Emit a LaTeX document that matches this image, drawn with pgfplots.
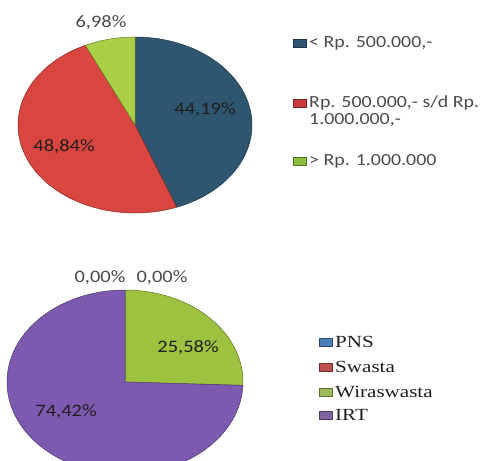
\documentclass[border=0pt]{standalone}
\usepackage{fontspec}
\setmainfont{Carlito}[FakeStretch=1.17]
\newfontfamily\legserif{Liberation Serif}[FakeStretch=1.24]
\usepackage{pgfplots}
\pgfplotsset{compat=1.18}
\definecolor{tblue}{HTML}{2E5670}
\definecolor{tred}{HTML}{D9453F}
\definecolor{tgreen}{HTML}{A9CF46}
\definecolor{bgreen}{HTML}{9CC23F}
\definecolor{bpurple}{HTML}{7D5AAF}
\definecolor{lblue}{HTML}{2F5670}
\definecolor{lred}{HTML}{C73B3B}
\definecolor{lgreen}{HTML}{8CBF3F}
\definecolor{pblue}{HTML}{4A7EBB}
\definecolor{pred}{HTML}{C0504D}
\definecolor{pgreen}{HTML}{9BBB59}
\definecolor{ppurple}{HTML}{8064A2}
\definecolor{txt}{HTML}{1E1E1E}
\definecolor{gtxt}{HTML}{4A4A4A}
% data (percent)
\def\Aa{44.19}\def\Ab{48.84}\def\Ac{6.98}
\def\Ba{0.00}\def\Bb{0.00}\def\Bc{25.58}\def\Bd{74.42}
\begin{document}
\begin{tikzpicture}
\useasboundingbox (0,0) rectangle (488bp,461bp);
\begin{axis}[
  width=488bp, height=461bp, scale only axis,
  xmin=0, xmax=488, ymin=0, ymax=461, y dir=reverse,
  hide axis, clip mode=individual, no markers,
  every axis plot/.append style={line width=0.5pt},
]
% ---- top pie: centre (135,125), rx 117, ry 88
\addplot[fill=tblue, draw=tblue!60!black, domain={90-3.6*\Aa}:90, samples=80]
  ({135+117*cos(x)},{125-88*sin(x)}) -- (axis cs:135,125) -- cycle;
\addplot[fill=tred, draw=tred!60!black, domain={90-3.6*(\Aa+\Ab)}:{90-3.6*\Aa}, samples=80]
  ({135+117*cos(x)},{125-88*sin(x)}) -- (axis cs:135,125) -- cycle;
\addplot[fill=tgreen, draw=tgreen!60!black, domain={90-3.6*(\Aa+\Ab+\Ac)}:{90-3.6*(\Aa+\Ab)}, samples=30]
  ({135+117*cos(x)},{125-88*sin(x)}) -- (axis cs:135,125) -- cycle;
% ---- bottom pie: centre (125,382), rx 118, ry 92
\addplot[fill=bgreen, draw=bgreen!60!black, domain={90-3.6*(\Ba+\Bb+\Bc)}:{90-3.6*(\Ba+\Bb)}, samples=60]
  ({125+118*cos(x)},{382-92*sin(x)}) -- (axis cs:125,382) -- cycle;
\addplot[fill=bpurple, draw=bpurple!60!black, domain={90-3.6*(\Ba+\Bb+\Bc+\Bd)}:{90-3.6*(\Ba+\Bb+\Bc)}, samples=120]
  ({125+118*cos(x)},{382-92*sin(x)}) -- (axis cs:125,382) -- cycle;
% ---- top legend squares
\addplot[fill=lblue, draw=lblue!60!black] coordinates {(293,39) (306,39) (306,47) (293,47)} -- cycle;
\addplot[fill=lred, draw=lred!60!black] coordinates {(293,99) (306,99) (306,107) (293,107)} -- cycle;
\addplot[fill=lgreen, draw=lgreen!60!black] coordinates {(293,157) (306,157) (306,165) (293,165)} -- cycle;
% ---- bottom legend squares
\addplot[fill=pblue, draw=pblue!60!black] coordinates {(319,338) (332,338) (332,346) (319,346)} -- cycle;
\addplot[fill=pred, draw=pred!60!black] coordinates {(319,363) (332,363) (332,371) (319,371)} -- cycle;
\addplot[fill=pgreen, draw=pgreen!60!black] coordinates {(319,388) (332,388) (332,396) (319,396)} -- cycle;
\addplot[fill=ppurple, draw=ppurple!60!black] coordinates {(319,411) (332,411) (332,419) (319,419)} -- cycle;
% ---- labels
\begin{scope}[every node/.style={font=\fontsize{17.5bp}{19bp}\selectfont, inner sep=0pt}]
\node[text=gtxt] at (axis cs:101,23) {6,98\%};
\node[text=txt] at (axis cs:205,110) {44,19\%};
\node[text=txt] at (axis cs:64,147) {48,84\%};
\node[text=gtxt] at (axis cs:100,278) {0,00\%};
\node[text=gtxt] at (axis cs:162,278) {0,00\%};
\node[text=txt] at (axis cs:188,348) {25,58\%};
\node[text=txt] at (axis cs:66,412) {74,42\%};
\end{scope}
\begin{scope}[every node/.style={font=\fontsize{17bp}{19bp}\selectfont, inner sep=0pt, text=gtxt, anchor=west}]
\node at (axis cs:309,43) {< Rp. 500.000,-};
\node at (axis cs:309,103) {Rp. 500.000,- s/d Rp.};
\node at (axis cs:309,120) {1.000.000,-};
\node at (axis cs:309,161) {> Rp. 1.000.000};
\end{scope}
\begin{scope}[every node/.style={font=\legserif\fontsize{17bp}{19bp}\selectfont, inner sep=0pt, text=txt, anchor=west}]
\node at (axis cs:335,342) {PNS};
\node at (axis cs:335,367) {Swasta};
\node at (axis cs:335,392) {Wiraswasta};
\node at (axis cs:335,415) {IRT};
\end{scope}
\end{axis}
\end{tikzpicture}
\end{document}
